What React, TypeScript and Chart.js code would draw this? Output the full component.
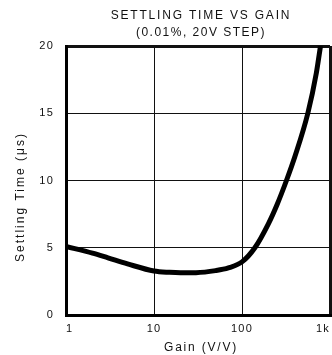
import React, { useEffect, useRef } from "react";
import { Chart, registerables } from "chart.js";

Chart.register(...registerables);

const TITLE_LINES = ["SETTLING TIME VS GAIN", "(0.01%, 20V STEP)"];
const X_TITLE = "Gain (V/V)";
const Y_TITLE = "Settling Time (\u03bcs)";

const gains = [1, 2, 3, 5, 10, 15, 20, 30, 50, 70, 100, 140, 200, 250, 320, 400, 560, 700, 780];
const settling = [5.1, 4.6, 4.25, 3.8, 3.27, 3.17, 3.14, 3.15, 3.3, 3.5, 3.95, 5.0, 6.8, 8.2, 10, 11.8, 15, 18, 20];

const xTickValues = [1, 10, 100, 1000];
const xTickLabels = ["1", "10", "100", "1k"];
const yTickValues = [0, 5, 10, 15, 20];

const FONT = "'Liberation Sans', Arial, Helvetica, sans-serif";

export default function App() {
  const ref = useRef<HTMLCanvasElement | null>(null);

  useEffect(() => {
    const canvas = ref.current;
    if (!canvas) return;

    const textPlugin = {
      id: "texts",
      beforeUpdate(chart: any) {
        chart.ctx.letterSpacing = "1.2px";
      },
      beforeDraw(chart: any) {
        chart.ctx.letterSpacing = "1.2px";
      },
      afterDraw(chart: any) {
        const ctx = chart.ctx;
        ctx.save();
        ctx.fillStyle = "#111";
        ctx.font = `12px ${FONT}`;
        ctx.textAlign = "center";
        ctx.textBaseline = "alphabetic";
        ctx.letterSpacing = "1.8px";
        ctx.fillText(TITLE_LINES[0], 201, 18.5);
        ctx.letterSpacing = "1.5px";
        ctx.fillText(TITLE_LINES[1], 201, 36);
        ctx.letterSpacing = "1.8px";
        ctx.textBaseline = "middle";
        ctx.fillText(X_TITLE, 201, 347.5);
        ctx.translate(21, 197);
        ctx.rotate(-Math.PI / 2);
        ctx.letterSpacing = "2px";
        ctx.fillText(Y_TITLE, 0, 0);
        ctx.restore();
      },
    };

    const chart = new Chart(canvas, {
      type: "line",
      data: {
        datasets: [
          {
            data: gains.map((g, i) => ({ x: g, y: settling[i] })),
            borderColor: "#000",
            borderWidth: 5,
            pointRadius: 0,
            cubicInterpolationMode: "monotone",
            fill: false,
          },
        ],
      },
      options: {
        responsive: false,
        animation: false,
        layout: { padding: { top: 46, right: 2, left: 0, bottom: 0 } },
        plugins: {
          legend: { display: false },
          title: { display: false },
          tooltip: { enabled: false },
        },
        scales: {
          x: {
            type: "logarithmic",
            min: 1,
            max: 1000,
            afterBuildTicks(scale: any) {
              scale.ticks = xTickValues.map((v) => ({ value: v }));
            },
            afterFit(scale: any) {
              scale.height = 40;
              scale.paddingLeft = 0;
              scale.paddingRight = 0;
            },
            ticks: {
              autoSkip: false,
              maxRotation: 0,
              align: "inner",
              padding: 7,
              color: "#111",
              font: { family: FONT, size: 11 },
              callback: (v: any) => {
                const i = xTickValues.indexOf(Number(v));
                return i >= 0 ? xTickLabels[i] : "";
              },
            },
            grid: {
              color: "#111",
              drawTicks: false,
              lineWidth: (c: any) =>
                c.tick && (c.tick.value === 1 || c.tick.value === 1000) ? 3 : 1,
            },
            border: { color: "#000", width: 3 },
          },
          y: {
            min: 0,
            max: 20,
            afterBuildTicks(scale: any) {
              scale.ticks = yTickValues.map((v) => ({ value: v }));
            },
            afterFit(scale: any) {
              scale.width = 66;
              scale.paddingTop = 0;
              scale.paddingBottom = 0;
            },
            ticks: {
              padding: 12,
              color: "#111",
              font: { family: FONT, size: 11 },
            },
            grid: {
              color: "#111",
              drawTicks: false,
              lineWidth: (c: any) =>
                c.tick && (c.tick.value === 0 || c.tick.value === 20) ? 3 : 1,
            },
            border: { color: "#000", width: 3 },
          },
        },
      },
      plugins: [textPlugin],
    } as any);

    return () => chart.destroy();
  }, []);

  return (
    <div style={{ position: "absolute", left: 0, top: 0, width: 332, height: 355, background: "#fff" }}>
      <canvas ref={ref} width={332} height={355} style={{ display: "block" }} />
    </div>
  );
}
